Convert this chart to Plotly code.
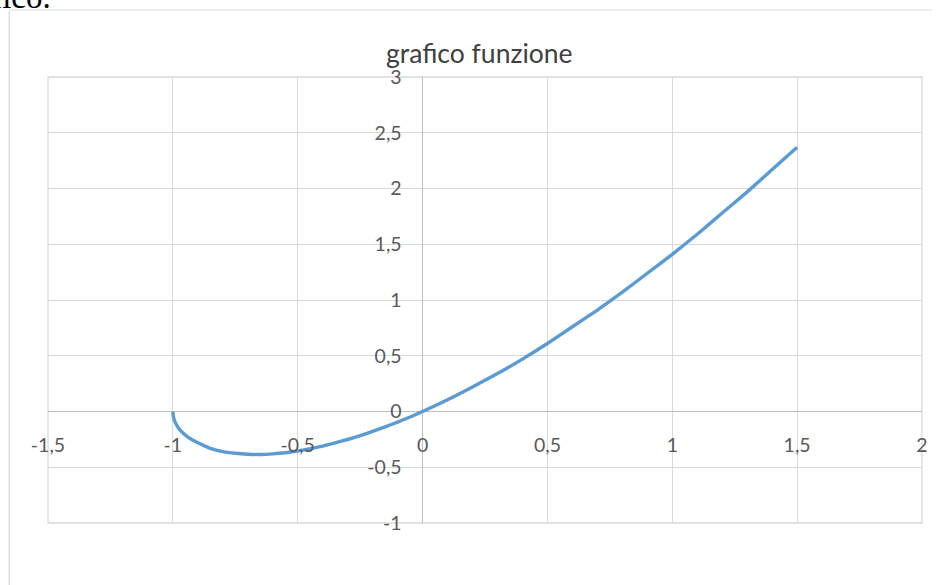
import plotly.graph_objects as go

# Values
x_vals = [-1.0, -0.998, -0.99, -0.97, -0.94, -0.9, -0.85, -0.8, -0.75, -0.7, -0.65, -0.6, -0.55,
          -0.5, -0.45, -0.4, -0.35, -0.3, -0.25, -0.2, -0.15, -0.1, -0.05, 0.0,
          0.1, 0.2, 0.3, 0.4, 0.5, 0.6, 0.7, 0.8, 0.9, 1.0, 1.1, 1.2, 1.3, 1.4, 1.5]
y_vals = [0.0, -0.045, -0.1, -0.17, -0.23, -0.28, -0.33, -0.36, -0.375, -0.383, -0.385, -0.38, -0.37,
          -0.354, -0.334, -0.31, -0.282, -0.251, -0.217, -0.179, -0.138, -0.095, -0.049, 0.0,
          0.105, 0.22, 0.34, 0.47, 0.61, 0.76, 0.91, 1.07, 1.24, 1.41, 1.59, 1.78, 1.97, 2.17, 2.37]

x_tickvals = [-1.5, -1, -0.5, 0, 0.5, 1, 1.5, 2]
x_ticktext = ["-1,5", "-1", "-0,5", "0", "0,5", "1", "1,5", "2"]
y_tickvals = [-1, -0.5, 0, 0.5, 1, 1.5, 2, 2.5, 3]
y_ticktext = ["-1", "-0,5", "0", "0,5", "1", "1,5", "2", "2,5", "3"]

title_text = "grafico funzione"
doc_text = "grafico."

W, H = 938, 585
ml, mr, mt, mb = 48, 10, 77, 62
pw, ph = W - ml - mr, H - mt - mb

xmin, xmax = -1.5, 2
ymin, ymax = -1, 3

fig = go.Figure()
fig.add_trace(go.Scatter(
    x=x_vals, y=y_vals, mode="lines",
    line=dict(color="#5B9BD5", width=3.4, shape="spline", smoothing=0.5),
    hoverinfo="skip", showlegend=False,
))

grid = "#d9d9d9"
tickfont = dict(family="Lato, 'Open Sans', sans-serif", size=19.5, color="#595959")
clear = "rgba(0,0,0,0)"

fig.update_layout(
    width=W, height=H,
    margin=dict(l=ml, r=mr, t=mt, b=mb),
    paper_bgcolor="white", plot_bgcolor="white",
    showlegend=False,
    xaxis=dict(
        range=[xmin, xmax], tickvals=x_tickvals, ticktext=x_ticktext,
        showgrid=True, gridcolor=grid, gridwidth=1.3,
        zeroline=True, zerolinecolor="#bfbfbf", zerolinewidth=1.3,
        showline=False, ticks="outside", ticklen=16, tickcolor=clear, tickfont=tickfont,
        anchor="free", position=(0 - ymin) / (ymax - ymin),
    ),
    yaxis=dict(
        range=[ymin, ymax], tickvals=y_tickvals, ticktext=y_ticktext,
        showgrid=True, gridcolor=grid, gridwidth=1.3,
        zeroline=True, zerolinecolor="#bfbfbf", zerolinewidth=1.3,
        showline=False, ticks="outside", ticklen=17, tickcolor=clear, tickfont=tickfont,
        anchor="free", position=(0 - xmin) / (xmax - xmin),
    ),
    annotations=[
        dict(text=title_text, x=(482 - ml) / pw, y=1 + (mt - 53) / ph,
             xref="paper", yref="paper", xanchor="center", yanchor="middle", showarrow=False,
             font=dict(family="Lato, 'Open Sans', sans-serif", size=26.5, color="#404040")),
        dict(text=doc_text, x=(53 - ml) / pw, y=1 + (mt + 23) / ph,
             xref="paper", yref="paper", xanchor="right", yanchor="top", showarrow=False,
             font=dict(family="'Liberation Serif', serif", size=33, color="black")),
    ],
    shapes=[
        dict(type="line", xref="paper", yref="paper",
             x0=(9 - ml) / pw, x1=(9 - ml) / pw, y0=-mb / ph, y1=1 + (mt - 11) / ph,
             line=dict(color="#d9d9d9", width=1.3)),
        dict(type="line", xref="paper", yref="paper",
             x0=(9 - ml) / pw, x1=1 + mr / pw, y0=1 + (mt - 10) / ph, y1=1 + (mt - 10) / ph,
             line=dict(color="#e6e6e6", width=1.3)),
        dict(type="rect", xref="paper", yref="paper", x0=0, x1=1, y0=0, y1=1,
             line=dict(color=grid, width=1.3), layer="below"),
    ],
)

fig.write_html("out.html", config={"displayModeBar": False},
               post_script="document.body.style.margin='0';document.body.style.padding='0';")
